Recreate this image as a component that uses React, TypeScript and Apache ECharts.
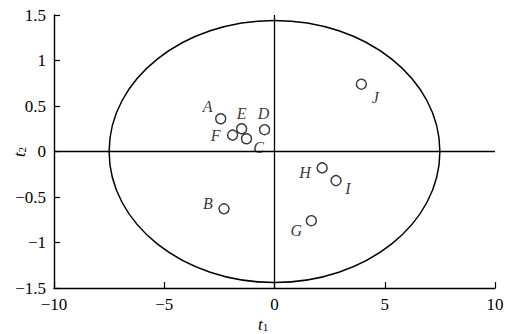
import React, { useEffect, useRef } from "react";
import * as echarts from "echarts";

const pointNames = ["A", "B", "C", "D", "E", "F", "G", "H", "I", "J"];
const t1Values = [-2.44, -2.29, -1.27, -0.45, -1.49, -1.9, 1.67, 2.16, 2.79, 3.94];
const t2Values = [0.36, -0.63, 0.14, 0.24, 0.25, 0.18, -0.76, -0.18, -0.32, 0.74];
const ellipseT1Radius = 7.5;
const ellipseT2Radius = 1.44;

const labelOffsets: Record<string, [number, number]> = {
  A: [-13, -12],
  B: [-16, -5],
  C: [12, 9],
  D: [-1, -16],
  E: [0, -15],
  F: [-17, 0],
  G: [-15, 10],
  H: [-17, 5],
  I: [12, 8],
  J: [14, 13],
};

const SERIF = "Liberation Serif";

function fmt(v: number) {
  const s = String(Math.abs(v));
  return v < 0 ? "\u2212" + s : s;
}

const nameRich = {
  t: { fontFamily: SERIF, fontStyle: "italic", fontSize: 17, fill: "#000" },
  s: { fontFamily: SERIF, fontSize: 11, fill: "#000", verticalAlign: "bottom", padding: [6, 0, 0, 0] },
};

export default function App() {
  const ref = useRef<HTMLDivElement>(null);
  useEffect(() => {
    if (!ref.current) return;
    const chart = echarts.init(ref.current, undefined, { renderer: "svg" });
    const points = pointNames.map((n, i) => ({
      name: n,
      value: [t1Values[i], t2Values[i]],
      label: { offset: labelOffsets[n] },
    }));
    chart.setOption({
      animation: false,
      grid: { left: 54, right: 11, top: 15, bottom: 46, outerBoundsMode: "none", containLabel: false },
      xAxis: {
        type: "value",
        min: -10,
        max: 10,
        interval: 5,
        splitLine: { show: false },
        axisLine: { onZero: false, lineStyle: { color: "#000", width: 1.4 } },
        axisTick: { inside: true, length: 6, lineStyle: { color: "#000", width: 1.2 } },
        axisLabel: {
          color: "#000",
          fontFamily: SERIF,
          fontSize: 17,
          margin: 8,
          formatter: fmt,
        },
      },
      yAxis: {
        type: "value",
        min: -1.5,
        max: 1.5,
        interval: 0.5,
        splitLine: { show: false },
        axisLine: { onZero: false, lineStyle: { color: "#000", width: 1.4 } },
        axisTick: { inside: true, length: 6, lineStyle: { color: "#000", width: 1.2 } },
        axisLabel: {
          color: "#000",
          fontFamily: SERIF,
          fontSize: 17,
          margin: 8,
          formatter: fmt,
        },
      },
      graphic: [
        {
          type: "text",
          x: 263,
          y: 324,
          style: { text: "{t|t}{s|1}", rich: nameRich, align: "center", verticalAlign: "middle" },
        },
        {
          type: "text",
          x: 19,
          y: 152,
          rotation: Math.PI / 2,
          style: { text: "{t|t}{s|2}", rich: nameRich, align: "center", verticalAlign: "middle" },
        },
      ],
      series: [
        {
          type: "custom",
          coordinateSystem: "cartesian2d",
          data: [[0, 0, ellipseT1Radius, ellipseT2Radius]],
          renderItem: (params: any, api: any) => {
            const c = api.coord([api.value(0), api.value(1)]);
            const rx = api.size([api.value(2), 0])[0];
            const ry = api.size([0, api.value(3)])[1];
            return {
              type: "ellipse",
              shape: { cx: c[0], cy: c[1], rx, ry },
              style: { fill: "none", stroke: "#000", lineWidth: 1.5 },
              silent: true,
            };
          },
          z: 2,
        },
        {
          type: "scatter",
          data: points,
          symbol: "circle",
          symbolSize: 10,
          itemStyle: { color: "rgba(0,0,0,0)", borderColor: "#000", borderWidth: 1.4 },
          label: {
            show: true,
            position: "inside",
            formatter: (p: any) => p.name,
            fontFamily: SERIF,
            fontStyle: "italic",
            fontSize: 16,
            color: "#000",
          },
          markLine: {
            silent: true,
            symbol: "none",
            label: { show: false },
            lineStyle: { color: "#000", width: 1.3, type: "solid" },
            data: [{ xAxis: 0 }, { yAxis: 0 }],
          },
          z: 3,
        },
      ],
    });
    return () => chart.dispose();
  }, []);
  return <div ref={ref} style={{ width: 506, height: 334, position: "absolute", left: 0, top: 0 }} />;
}
